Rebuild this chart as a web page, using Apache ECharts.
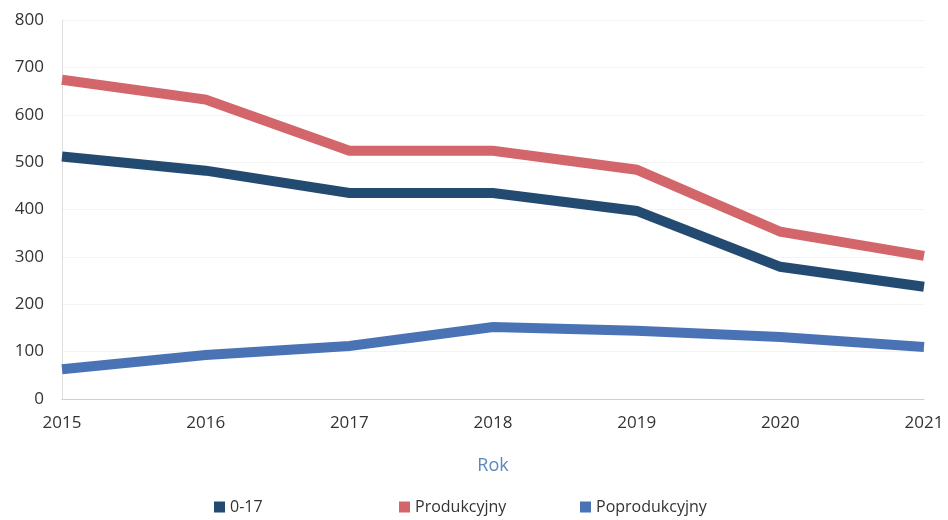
<!DOCTYPE html>
<html>
<head>
<meta charset="utf-8">
<script src="https://cdn.jsdelivr.net/npm/echarts@6/dist/echarts.min.js"></script>
<style>
  html, body { margin: 0; padding: 0; background: #fff; }
  #chart { width: 948px; height: 520px; }
</style>
</head>
<body>
<div id="chart"></div>
<script>
// dane
const years = ['2015', '2016', '2017', '2018', '2019', '2020', '2021']
const yTicks = [0, 100, 200, 300, 400, 500, 600, 700, 800]
const seriesNames = ['0-17', 'Produkcyjny', 'Poprodukcyjny']
const young = [512, 482, 435, 435, 397, 279, 237]
const working = [674, 632, 524, 524, 484, 353, 302]
const retired = [63, 93, 112, 152, 144, 131, 110]

const colors = ['#234a70', '#d2666b', '#4a73b5']
const font = 'Open Sans'
// pozycje legendy (każdy element osobno)
const legendLeft = [209, 394, 575]

const lineSeries = (name, data) => ({
  name: name,
  type: 'line',
  data: data,
  symbol: 'none',
  lineStyle: { width: 10, cap: 'butt', join: 'miter' },
})

const legends = seriesNames.map((name, i) => ({
  bottom: 0,
  left: legendLeft[i],
  itemWidth: 11,
  itemHeight: 11,
  icon: 'rect',
  textStyle: { fontSize: 16, color: '#333', fontFamily: font },
  data: [name],
}))

const chart = echarts.init(document.getElementById('chart'))
chart.setOption({
  color: colors,
  textStyle: { fontFamily: font },
  animation: false,
  grid: { left: 62, right: 24, top: 20, bottom: 121 },
  legend: legends,
  xAxis: {
    type: 'category',
    data: years,
    boundaryGap: false,
    name: 'Rok',
    nameLocation: 'middle',
    nameGap: 58,
    nameTextStyle: { color: '#5b88b8', fontSize: 18 },
    axisLine: { lineStyle: { color: '#d0d0d0', width: 1 } },
    axisTick: { show: false },
    axisLabel: { color: '#333', fontSize: 17, margin: 16 },
  },
  yAxis: {
    type: 'value',
    min: yTicks[0],
    max: yTicks[yTicks.length - 1],
    interval: 100,
    axisLine: { show: true, lineStyle: { color: '#d8d8d8', type: 'dotted' } },
    axisTick: { show: false },
    splitLine: { lineStyle: { color: '#f3f3f3' } },
    axisLabel: { color: '#333', fontSize: 17, margin: 18 },
  },
  series: [
    lineSeries(seriesNames[0], young),
    lineSeries(seriesNames[1], working),
    lineSeries(seriesNames[2], retired),
  ],
})
</script>
</body>
</html>
